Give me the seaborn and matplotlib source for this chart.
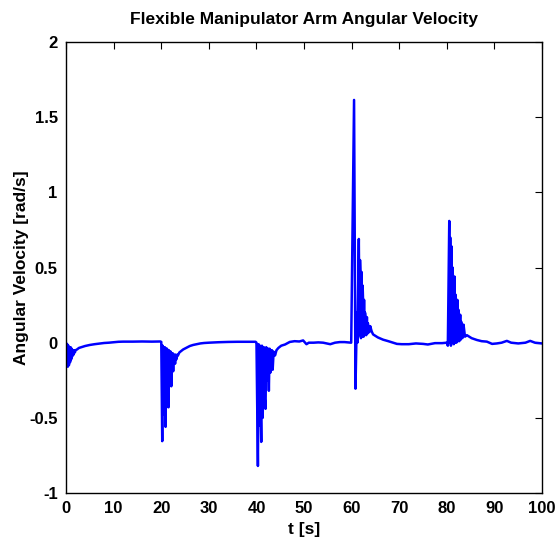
import numpy as np
import pandas as pd
import seaborn as sns
import matplotlib
matplotlib.use("Agg")
import matplotlib.pyplot as plt

# arm angular velocity, one segment per 20 s move
t_move1 = [0, 0.12, 0.24, 0.36, 0.48, 0.6, 0.72, 0.84, 0.96, 1.08, 1.2, 1.32, 1.44, 1.56, 1.7,
           1.85, 2.0, 2.3, 2.7, 3.2, 4, 5, 6, 7, 8, 9, 10, 11, 12, 14, 16, 18, 19.6]
v_move1 = [0, -0.12, -0.01, -0.16, -0.02, -0.15, -0.03, -0.13, -0.03, -0.11, -0.04, -0.09, -0.05,
           -0.08, -0.05, -0.065, -0.05, -0.045, -0.035, -0.03, -0.022, -0.015, -0.01, -0.006,
           -0.002, 0.0, 0.003, 0.006, 0.007, 0.007, 0.008, 0.007, 0.008]

t_move2 = [19.8, 20.0, 20.2, 20.3, 20.4, 20.5, 20.6, 20.75, 20.9, 21.0, 21.1, 21.2, 21.3, 21.4,
           21.5, 21.6, 21.7, 21.8, 21.9, 22.0, 22.1, 22.2, 22.3, 22.4, 22.5, 22.6, 22.7, 22.8,
           22.9, 23.0, 23.1, 23.2, 23.35, 23.5, 23.8, 24.2, 24.6, 25.2, 26, 26.7, 27.5, 28.2,
           29, 30, 32, 34, 36, 38, 39.8]
v_move2 = [0.008, 0.005, -0.655, -0.02, -0.42, -0.03, -0.48, -0.03, -0.56, -0.04, -0.3, -0.04,
           -0.35, -0.05, -0.43, -0.05, -0.22, -0.06, -0.25, -0.06, -0.29, -0.07, -0.16, -0.07,
           -0.19, -0.08, -0.12, -0.08, -0.14, -0.08, -0.09, -0.11, -0.08, -0.085, -0.065,
           -0.055, -0.045, -0.035, -0.022, -0.015, -0.01, -0.005, -0.002, 0.0, 0.003, 0.005,
           0.006, 0.006, 0.006]

t_move3 = [40.0, 40.3, 40.45, 40.6, 40.75, 40.85, 41.0, 41.15, 41.3, 41.4, 41.55, 41.7, 41.9,
           42.05, 42.2, 42.3, 42.45, 42.6, 42.75, 42.9, 43.0, 43.1, 43.25, 43.4, 43.6, 43.9,
           44.2, 44.6, 45.2, 46, 47, 48, 49, 49.8, 50.5, 51, 52, 53, 54, 55.5, 56.5, 57.5,
           58.5, 59.7]
v_move3 = [0.0, -0.82, -0.01, -0.55, -0.02, -0.4, -0.66, -0.02, -0.5, -0.30, -0.03, -0.36, -0.44,
           -0.03, -0.25, -0.22, -0.04, -0.32, -0.04, -0.2, -0.05, -0.14, -0.05, -0.18, -0.06,
           -0.085, -0.05, -0.035, -0.02, -0.012, 0.005, 0.01, 0.008, 0.015, -0.01, 0.0, 0.0,
           0.002, 0.0, -0.01, 0.0, 0.004, 0.004, 0.0]

t_move4 = [59.9, 60.5, 60.8, 61.1, 61.2, 61.5, 61.65, 61.75, 61.85, 61.95, 62.1, 62.2, 62.3,
           62.45, 62.5, 62.6, 62.7, 62.8, 63.0, 63.05, 63.2, 63.3, 63.4, 63.6, 63.7, 63.9, 64.2,
           64.5, 65.5, 66.6, 67.7, 68.7, 69.5, 70.5, 72, 73.5, 75, 76, 77.5, 79]
v_move4 = [0.0, 1.615, -0.306, 0.2, 0.0, 0.69, 0.05, 0.55, 0.45, 0.03, 0.47, 0.04, 0.38, 0.22,
           0.04, 0.285, 0.05, 0.2, 0.14, 0.05, 0.17, 0.06, 0.13, 0.09, 0.07, 0.11, 0.075, 0.055,
           0.035, 0.02, 0.01, 0.0, -0.008, -0.01, -0.01, -0.005, -0.008, -0.012, -0.003, -0.003]

t_move5 = [80.0, 80.2, 80.5, 80.6, 80.7, 80.85, 81.0, 81.1, 81.2, 81.35, 81.45, 81.6, 81.7, 81.8,
           81.95, 82.0, 82.2, 82.3, 82.4, 82.55, 82.6, 82.8, 82.9, 83.0, 83.2, 83.25, 83.5,
           83.8, 84.2, 85.2, 86.3, 87.3, 88.4, 89.5, 90.5, 91.5, 92.6, 93.5, 95, 96.5, 97.5,
           98.5, 99.9, 100]
v_move5 = [0.0, -0.02, 0.81, 0.0, 0.7, -0.02, 0.64, 0.0, 0.5, 0.35, -0.01, 0.44, 0.0, 0.32,
           0.2, 0.0, 0.285, 0.01, 0.22, 0.12, 0.01, 0.186, 0.02, 0.14, 0.08, 0.03, 0.12, 0.04,
           0.05, 0.03, 0.018, 0.01, 0.007, -0.008, -0.005, 0.0, 0.012, 0.0, -0.005, 0.0, 0.012,
           0.0, -0.005, -0.005]

x_ticks = [0, 10, 20, 30, 40, 50, 60, 70, 80, 90, 100]
y_ticks = [-1, -0.5, 0, 0.5, 1, 1.5, 2]
y_tick_labels = ["-1", "-0.5", "0", "0.5", "1", "1.5", "2"]

df = pd.DataFrame({
    "t": t_move1 + t_move2 + t_move3 + t_move4 + t_move5,
    "w": v_move1 + v_move2 + v_move3 + v_move4 + v_move5,
})

sns.set_style("white")
plt.rcParams["font.family"] = ["Liberation Sans", "DejaVu Sans"]
plt.rcParams["font.weight"] = "bold"
plt.rcParams["text.color"] = "black"
plt.rcParams["axes.labelcolor"] = "black"

fig = plt.figure(figsize=(5.6, 5.42), dpi=100)
ax = fig.add_axes([0.118, 0.0904, 0.85, 0.832])

sns.lineplot(data=df, x="t", y="w", color=(0, 0, 1), linewidth=1.8, estimator=None, sort=False, ax=ax)

ax.set_xlim(0, 100)
ax.set_ylim(-1, 2)
ax.set_xticks(x_ticks)
ax.set_yticks(y_ticks)
ax.set_yticklabels(y_tick_labels)
ax.tick_params(direction="in", length=5, width=0.8, top=True, right=True,
               labelsize=12, colors="black", pad=6)
for lab in ax.get_xticklabels() + ax.get_yticklabels():
    lab.set_fontweight("bold")
for s in ax.spines.values():
    s.set_color("black")
    s.set_linewidth(1)

ax.set_xlabel("t [s]", fontsize=12.5, fontweight="bold", color="black", labelpad=4)
ax.set_ylabel("Angular Velocity [rad/s]", fontsize=12.5, fontweight="bold", color="black", labelpad=0)
ax.set_title("Flexible Manipulator Arm Angular Velocity", fontsize=12.5, fontweight="bold",
             color="black", pad=13)

fig.savefig("out.png", dpi=100)
